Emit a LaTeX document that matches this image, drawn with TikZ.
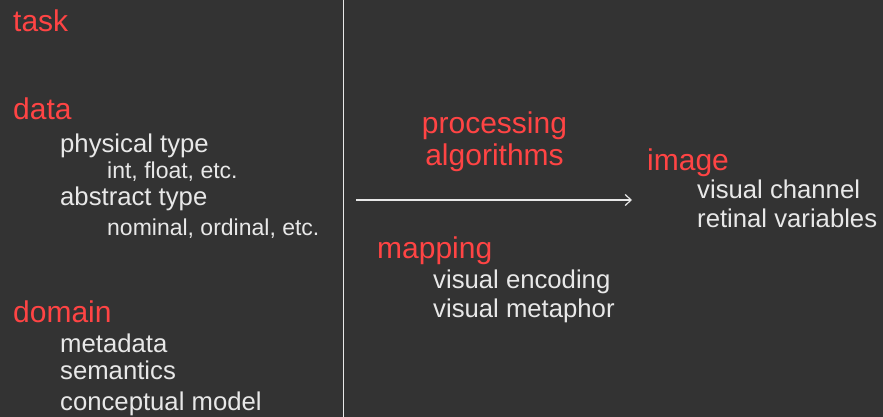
\documentclass[tikz,border=0pt]{standalone}
\usepackage{fontspec}
\setmainfont{Liberation Sans}
\usepackage{xcolor}
\usetikzlibrary{arrows,arrows.meta,positioning}
\definecolor{slidebg}{HTML}{333333}
\definecolor{headred}{HTML}{FF4444}
\definecolor{itemwhite}{HTML}{E8E8E8}

\begin{document}
\begin{tikzpicture}[x=1pt, y=-1pt]
        \tikzstyle{head} = [anchor=base west, inner sep=0pt, text=headred, font=\fontsize{30}{32}\selectfont]
        \tikzstyle{item} = [anchor=base west, inner sep=0pt, text=itemwhite, font=\fontsize{25.7}{29}\selectfont]
        \tikzstyle{subitem} = [anchor=base west, inner sep=0pt, text=itemwhite, font=\fontsize{23}{26}\selectfont]
        \fill[slidebg] (0,0) rectangle (883,417);
        \useasboundingbox (0,0) rectangle (883,417);
        % left column
        \node[head] (task) at (13,32) {task};
        \node[head] (data) at (13,120) {data};
        \node[item] (phys) at (60,152) {physical type};
        \node[subitem] (physex) at (107,178) {int, float, etc.};
        \node[item] (abst) at (60,205) {abstract type};
        \node[subitem] (abstex) at (107,235) {nominal, ordinal, etc.};
        \node[head] (domain) at (13,322) {domain};
        \node[item] (meta) at (60,352) {metadata};
        \node[item] (sem) at (60,379) {semantics};
        \node[item] (concept) at (60,410) {conceptual model};
        \draw[itemwhite, line width=1pt] (343,0) -- (343,417);
        % middle
        \node[head, anchor=base, align=center] (proc) at (494.5,165) {processing\\algorithms};
        \coordinate (arrstart) at (356,200);
        \coordinate (arrend) at (632,200);
        \draw[-{Straight Barb[length=6pt, width=11pt]}, itemwhite, line width=1.2pt] (arrstart) -- (arrend);
        \node[head] (mapping) at (377,258) {mapping};
        \node[item] (enc) at (433,288) {visual encoding};
        \node[item] (meta2) at (433,317) {visual metaphor};
        % right
        \node[head] (image) at (647,170) {image};
        \node[item] (chan) at (697,198) {visual channel};
        \node[item] (ret) at (697,227) {retinal variables};
    \end{tikzpicture}
\end{document}
